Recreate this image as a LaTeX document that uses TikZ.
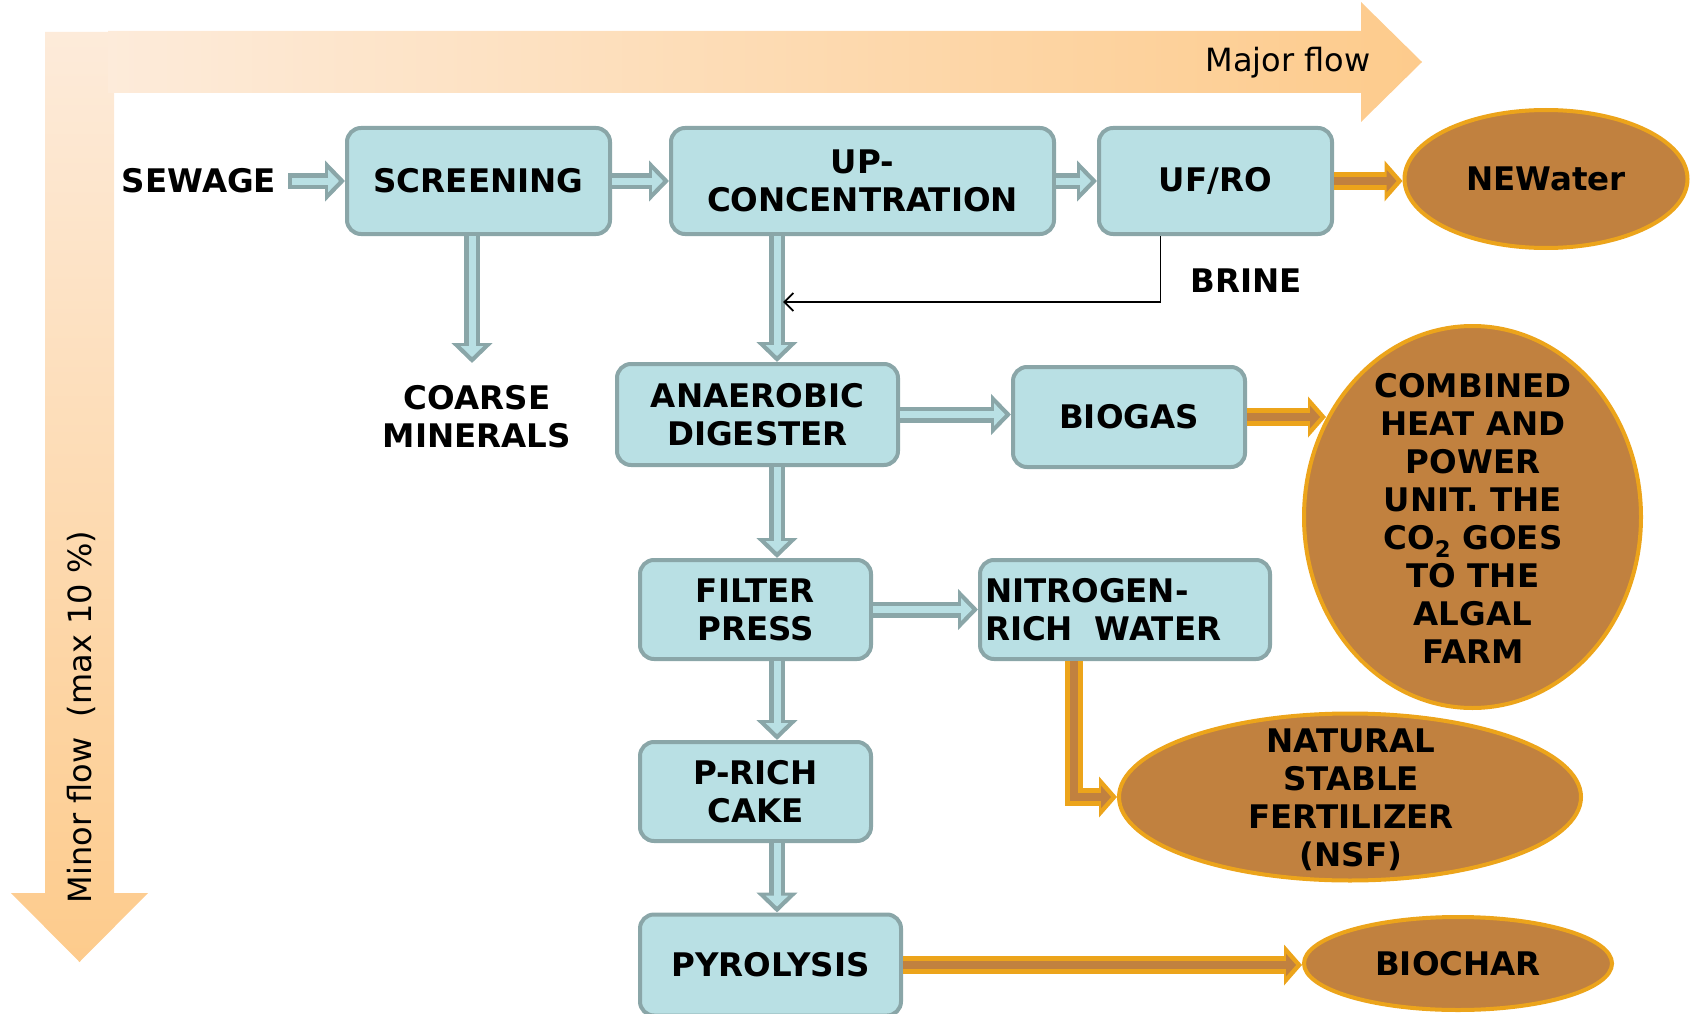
\documentclass[tikz,border=0pt]{standalone}
\usepackage{fontspec}
\setmainfont{DejaVu Sans}
\usetikzlibrary{arrows.meta,shapes.geometric}

\definecolor{boxfill}{HTML}{B9E0E4}
\definecolor{boxedge}{HTML}{8AA6A8}
\definecolor{tankfill}{HTML}{C1813F}
\definecolor{tankedge}{HTML}{ECA41B}
\definecolor{flowlight}{HTML}{FDEBDA}
\definecolor{flowdark}{HTML}{FDCB8C}

\newcommand{\unitfont}{\bfseries\fontsize{32.5}{38}\selectfont}
\newcommand{\flowfont}{\fontsize{32}{38}\selectfont}

\tikzset{
  unit/.style={draw=boxedge, fill=boxfill, line width=4pt, rounded corners=14pt,
    align=center, inner sep=0pt, font=\unitfont},
  product/.style={ellipse, draw=tankedge, fill=tankfill, line width=4pt,
    inner sep=0pt, align=center, font=\unitfont},
  tag/.style={align=center, font=\unitfont},
  pipe/.style={draw=boxedge, line width=16pt, line join=miter,
    -{Triangle[length=20pt,width=40pt]},
    postaction={draw=boxfill, line width=7pt, shorten >=6pt, shorten <=#1,
      -{Triangle[length=11pt,width=22pt]}}},
  pipe/.default=0pt,
  feed/.style={draw=tankedge, line width=18pt, line join=miter,
    -{Triangle[length=18pt,width=40pt]},
    postaction={draw=tankfill, line width=8pt, shorten >=6pt,
      -{Triangle[length=10pt,width=22pt]}}},
  brinepath/.style={draw=black, line width=1.8pt, -{Straight Barb[length=9pt,width=18pt]}}
}

\begin{document}
\begin{tikzpicture}[x=1pt,y=-1pt]
  \useasboundingbox (0,0) rectangle (1692,1014);

  % flow bands
  \shade[top color=flowlight, bottom color=flowdark]
    (45,32) -- (114,32) -- (114,893) -- (148,893) -- (79.5,962) -- (11,893) -- (45,893) -- cycle;
  \shade[left color=flowlight, right color=flowdark]
    (108,31) -- (1361,31) -- (1361,2) -- (1422,62) -- (1361,122) -- (1361,93) -- (108,93) -- cycle;
  \node[font=\flowfont] (major) at (1288,63) {Major flow};
  \node[font=\flowfont, rotate=90] (minor) at (81,717) {Minor flow\ \ (max 10 \%)};

  % process units
  \node[unit, minimum width=263pt, minimum height=106pt] (screen) at (478.5,181) {SCREENING};
  \node[unit, minimum width=383pt, minimum height=106pt] (upconc) at (862.5,181) {UP-\\CONCENTRATION};
  \node[unit, minimum width=233pt, minimum height=106pt] (ufro)   at (1215.5,181) {UF/RO};
  \node[unit, minimum width=281pt, minimum height=101pt] (anaer)  at (757.5,414.5) {ANAEROBIC\\DIGESTER};
  \node[unit, minimum width=232pt, minimum height=100pt] (biogas) at (1129,417) {BIOGAS};
  \node[unit, minimum width=231pt, minimum height=99pt]  (filter) at (755.5,609.5) {FILTER\\PRESS};
  \node[unit, minimum width=290pt, minimum height=99pt, align=left, text width=280pt]
    (nit) at (1125,609.5) {NITROGEN-\\RICH\ \ WATER};
  \node[unit, minimum width=231pt, minimum height=99pt]  (prich)  at (755.5,791.5) {P-RICH\\CAKE};
  \node[unit, minimum width=261pt, minimum height=101pt] (pyro)   at (770.5,965) {PYROLYSIS};

  % products
  \node[product, minimum width=283pt, minimum height=138pt] (newater) at (1546,179) {NEWater};
  \node[product, minimum width=337pt, minimum height=382pt] (chp) at (1472.5,517) {};
  \node[tag] (chptext) at (1473,518)
    {COMBINED\\HEAT AND\\POWER\\UNIT. THE\\CO\textsubscript{2} GOES\\TO THE\\ALGAL\\FARM};
  \node[product, minimum width=462pt, minimum height=167pt] (nsf) at (1350,797) {};
  \node[tag] (nsftext) at (1351,800) {NATURAL\\STABLE\\FERTILIZER\\(NSF)};
  \node[product, minimum width=308pt, minimum height=93pt] (biochar) at (1458,963.5) {BIOCHAR};

  % plain labels
  \node[tag] (sewage) at (199,181) {SEWAGE};
  \node[tag] (coarse) at (477,417) {COARSE\\MINERALS};
  \node[tag] (brine)  at (1246,281) {BRINE};

  \coordinate (spine) at (777,0);
  \coordinate (coarsein) at (472,363);
  \coordinate (sewageout) at (288,181);
  \coordinate (brinein) at (783,302);

  % main line
  \draw[pipe=4pt] (sewageout) -- (screen.west);
  \draw[pipe] (screen) -- (upconc);
  \draw[pipe] (upconc) -- (ufro);
  \draw[pipe] (screen.south -| coarsein) -- (coarsein);
  \draw[pipe] (upconc.south -| spine) -- (anaer.north -| spine);
  \draw[pipe] (anaer.south -| spine) -- (filter.north -| spine);
  \draw[pipe] (filter.south -| spine) -- (prich.north -| spine);
  \draw[pipe] (prich.south -| spine) -- (pyro.north -| spine);
  \draw[pipe] (anaer.east) -- (anaer.east -| biogas.west);
  \draw[pipe] (filter) -- (nit);

  % products out
  \draw[feed] (ufro.east) -- (ufro.east -| newater.west);
  \draw[feed] (biogas.east) -- (biogas.east -| chp.146);
  \draw[feed] ([xshift=-51pt]nit.south) |- (nsf.west);
  \draw[feed] (pyro.east) -- (pyro.east -| biochar.west);

  % brine back to digester
  \draw[brinepath] ([xshift=-55pt]ufro.south) |- (brinein);
\end{tikzpicture}
\end{document}
